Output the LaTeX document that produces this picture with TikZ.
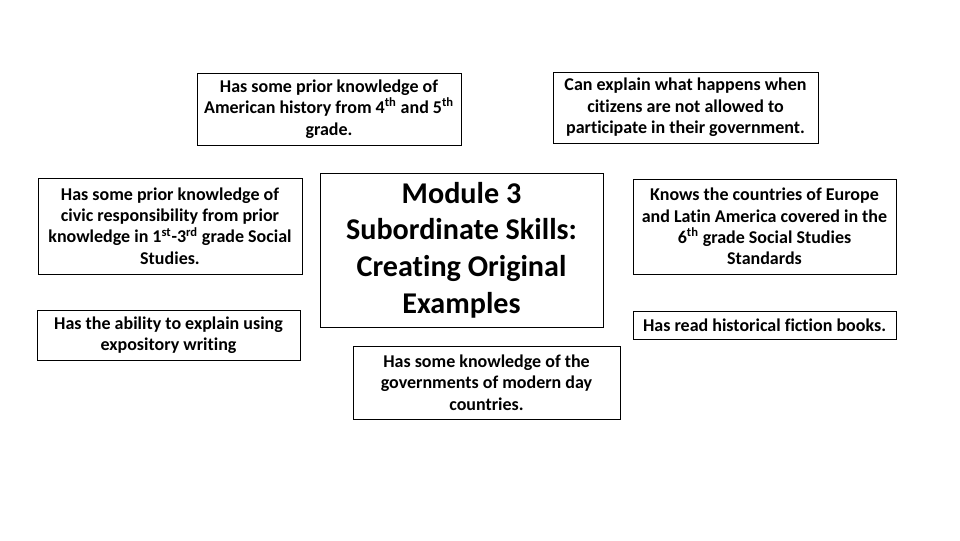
\documentclass[tikz,border=0pt]{standalone}
\usepackage{fontspec}
\setmainfont{Carlito}[Ligatures=NoCommon]
\usepackage{tikz}
\usetikzlibrary{positioning}
\tikzset{
  box/.style={rectangle,draw=black,line width=.75pt,align=center,inner sep=1pt,font=\fontsize{13.5}{16.1}\selectfont\bfseries},
  core/.style={box,font=\fontsize{22.6}{27.4}\selectfont\bfseries}
}

\begin{document}
\begin{tikzpicture}[x=.75pt,y=-.75pt]
  \useasboundingbox (0,0) rectangle (960,540);
  \node[box,minimum width=198pt,minimum height=54pt] (hist) at (329,109)
    {Has some prior knowledge of\\American history from 4\textsuperscript{th} and 5\textsuperscript{th}\\grade.};
  \node[box,minimum width=198.75pt,minimum height=53.25pt] (gov) at (685.5,107.5)
    {Can explain what happens when\\citizens are not allowed to\\participate in their government.};
  \node[box,minimum width=198pt,minimum height=72pt] (civic) at (170,226)
    {Has some prior knowledge of\\civic responsibility from prior\\knowledge in 1\textsuperscript{st}-3\textsuperscript{rd} grade Social\\Studies.};
  \node[box,minimum width=197.25pt,minimum height=37.5pt] (expo) at (168.5,335)
    {Has the ability to explain using\\expository writing};
  \node[core,minimum width=212.25pt,minimum height=115.5pt] (mod) at (461.5,250)
    {Module 3\\Subordinate Skills:\\Creating Original\\Examples};
  \node[box,minimum width=200.25pt,minimum height=54.75pt] (modern) at (486.5,382.5)
    {Has some knowledge of the\\governments of modern day\\countries.};
  \node[box,minimum width=197.25pt,minimum height=71.25pt] (europe) at (764.5,226.5)
    {Knows the countries of Europe\\and Latin America covered in the\\6\textsuperscript{th} grade Social Studies\\Standards};
  \node[box,minimum width=197.25pt,minimum height=21pt] (fiction) at (764.5,325)
    {Has read historical fiction books.};
\end{tikzpicture}
\end{document}
